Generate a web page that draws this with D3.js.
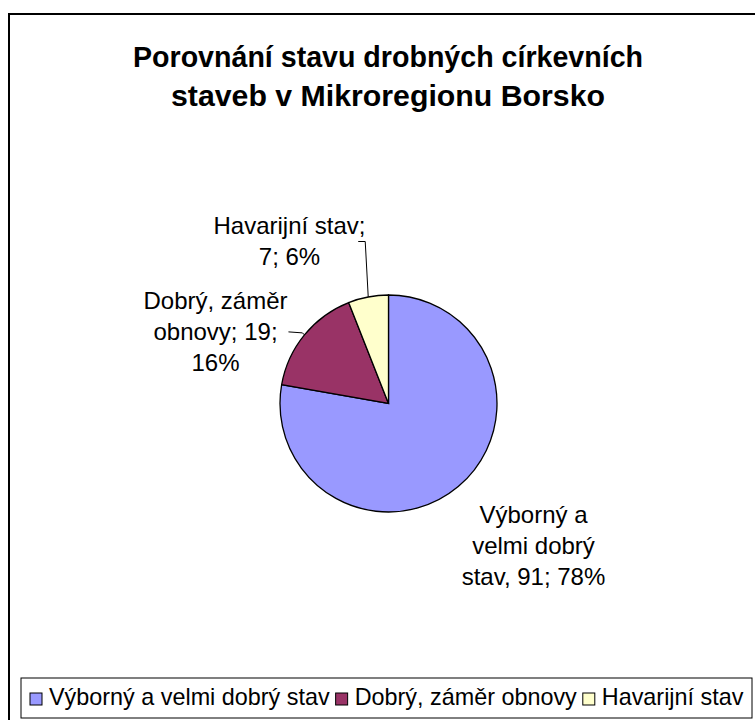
<!DOCTYPE html>
<html>
<head>
<meta charset="utf-8">
<script src="https://cdn.jsdelivr.net/npm/d3@7"></script>
<style>
  body { margin: 0; background: #fff; }
  text { font-family: "Liberation Sans", Arial, sans-serif; fill: #000; }
</style>
</head>
<body>
<svg id="graf"></svg>
<script>
// Porovnání stavu drobných církevních staveb
var kategorie = ["Výborný a velmi dobrý stav", "Dobrý, záměr obnovy", "Havarijní stav"];
var pocty = [91, 19, 7];
var procenta = ["78%", "16%", "6%"];
// popisky u výsečí (rozdělené na řádky)
var popisky = [
    ["Výborný a", "velmi dobrý", "stav, 91; 78%"],
    ["Dobrý, záměr", "obnovy; 19;", "16%"],
    ["Havarijní stav;", "7; 6%"]
];
var titulek = ["Porovnání stavu drobných církevních", "staveb v Mikroregionu Borsko"];

var width = 755, height = 720;
var cx = 388.5, cy = 403.5, r = 108.5;

const svg = d3.select("#graf")
    .attr("width", width)
    .attr("height", height);

const barva = d3.scaleOrdinal(kategorie, ["#9999FF", "#993366", "#FFFFCC"]);

// ramecek
svg.append("rect")
    .attr("x", 9).attr("y", 14)
    .attr("width", 800).attr("height", 800)
    .attr("fill", "#fff")
    .attr("stroke", "#000")
    .attr("stroke-width", 2);

// titulek
var sirkyTitulku = [510, 434];
svg.selectAll(".titulek")
    .data(titulek)
    .enter().append("text")
    .attr("class", "titulek")
    .attr("text-anchor", "middle")
    .attr("font-size", "30px")
    .attr("font-weight", "bold")
    .attr("x", 388)
    .attr("y", (d, i) => 67 + i * 39)
    .attr("textLength", (d, i) => sirkyTitulku[i])
    .attr("lengthAdjust", "spacingAndGlyphs")
    .text(d => d);

var data = kategorie.map((k, i) => ({kat: k, val: pocty[i], pct: procenta[i], lab: popisky[i]}));

const pie = d3.pie().sort(null).value(d => d.val);
const arc = d3.arc().innerRadius(0).outerRadius(r);
const arcs = pie(data);

const g = svg.append("g").attr("transform", "translate(" + cx + "," + cy + ")");

g.selectAll("path")
    .data(arcs)
    .enter().append("path")
    .attr("d", arc)
    .attr("fill", d => barva(d.data.kat))
    .attr("stroke", "#000")
    .attr("stroke-width", 1.3);

// umisteni popisku (relativne ke stredu kolace): x stredu, y prvni uctaci cary
var labPos = [
    {x: 145, y: 119},
    {x: -173, y: -95},
    {x: -99, y: -170}
];
// lomene cary k popiskum
function edgePoint(d) {
    var a = (d.startAngle + d.endAngle) / 2;
    return [r * Math.sin(a), -r * Math.cos(a)];
}
var leaders = [
    null,
    d => { var p = edgePoint(d); return [p, [p[0] - 2, p[1] - 2], [p[0] - 16, p[1] - 3]]; },
    d => { var p = edgePoint(d); return [p, [p[0] - 3, -162], [p[0] - 10, -162]]; }
];

arcs.forEach((d, i) => {
    if (leaders[i]) {
        g.append("path")
            .attr("d", d3.line()(leaders[i](d)))
            .attr("fill", "none")
            .attr("stroke", "#000")
            .attr("stroke-width", 1);
    }
    g.append("text")
        .attr("text-anchor", "middle")
        .attr("font-size", "24px")
        .selectAll("tspan")
        .data(d.data.lab)
        .enter().append("tspan")
        .attr("x", labPos[i].x)
        .attr("y", (t, j) => labPos[i].y + j * 31)
        .text(t => t);
});

// legenda
const leg = svg.append("g");
leg.append("rect")
    .attr("x", 21).attr("y", 678)
    .attr("width", 731).attr("height", 40)
    .attr("fill", "#fff")
    .attr("stroke", "#000")
    .attr("stroke-width", 1);

var lx = 30;
kategorie.forEach(k => {
    leg.append("rect")
        .attr("x", lx).attr("y", 693)
        .attr("width", 12).attr("height", 12)
        .attr("fill", barva(k))
        .attr("stroke", "#000")
        .attr("stroke-width", 1);
    var t = leg.append("text")
        .attr("x", lx + 19).attr("y", 705)
        .attr("font-size", "24px")
        .text(k);
    var w = t.node().getComputedTextLength() * 0.974;
    t.attr("textLength", w).attr("lengthAdjust", "spacingAndGlyphs");
    lx += 19 + w + 6;
});
</script>
</body>
</html>
